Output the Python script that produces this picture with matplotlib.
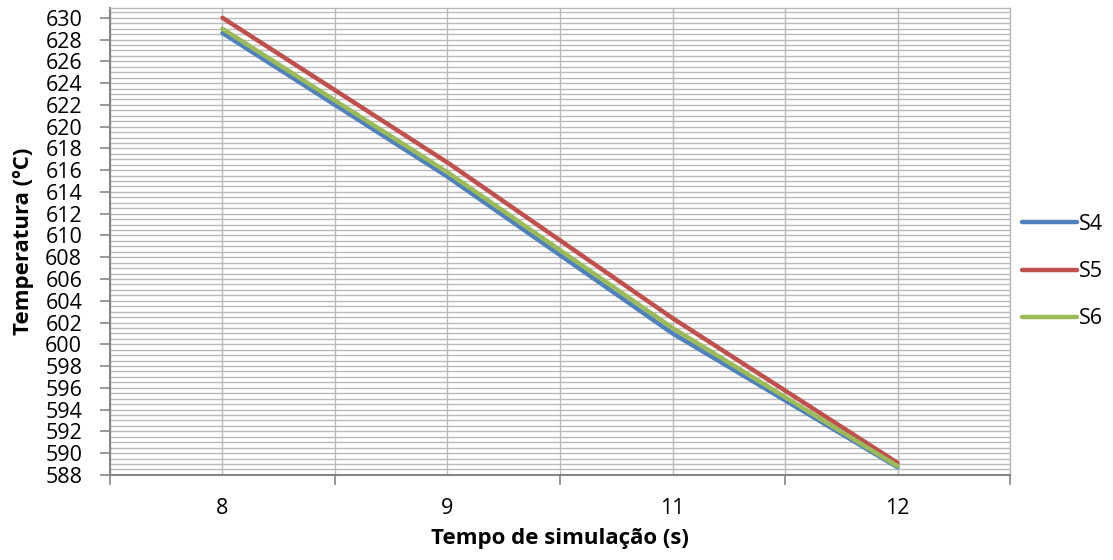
import matplotlib
matplotlib.use("Agg")
import matplotlib.pyplot as plt
from matplotlib.ticker import MultipleLocator, FixedLocator

plt.rcParams['font.family'] = ['Open Sans', 'DejaVu Sans']

# data
tempos = ["8", "9", "11", "12"]
s4 = [628.6, 615.4, 601.0, 588.7]
s5 = [630.0, 616.7, 602.4, 589.1]
s6 = [629.0, 615.8, 601.5, 588.8]

series = [("S4", s4, "#4F81BD"), ("S5", s5, "#C0504D"), ("S6", s6, "#9BBB59")]

GRID = "#b9b9b9"
AXIS = "#868686"

fig = plt.figure(figsize=(11.13, 5.6), dpi=100)
ax = fig.add_axes([0.0988, 0.152, 0.8087, 0.8337])

xs = list(range(len(tempos)))
for name, vals, col in series:
    ax.plot(xs, vals, color=col, lw=3.2, solid_capstyle="round", label=name, zorder=3)

ax.set_xlim(-0.5, len(tempos) - 0.5)
ax.set_ylim(588, 630.9)

ax.set_xticks(xs)
ax.set_xticklabels(tempos)
ax.xaxis.set_minor_locator(FixedLocator([i - 0.5 for i in range(len(tempos) + 1)]))
ax.yaxis.set_major_locator(MultipleLocator(2))
ax.yaxis.set_minor_locator(MultipleLocator(0.5))

ax.tick_params(axis="x", which="major", length=0, pad=17, labelsize=15.5)
ax.tick_params(axis="x", which="minor", length=7, width=1.2, color=AXIS, direction="out")
ax.tick_params(axis="y", which="major", length=7, width=1.2, color=AXIS, direction="out",
               labelsize=15.5, pad=13)
ax.tick_params(axis="y", which="minor", length=0)

ax.grid(True, which="both", axis="both", color=GRID, lw=1.0, zorder=0)
ax.set_axisbelow(True)

for side in ["top", "right"]:
    ax.spines[side].set_color(GRID)
    ax.spines[side].set_linewidth(1.0)
for side in ["left", "bottom"]:
    ax.spines[side].set_color(AXIS)
    ax.spines[side].set_linewidth(1.5)

ax.set_ylabel("Temperatura (ºC)", fontsize=16, fontweight="bold", va="center")
ax.set_xlabel("Tempo de simulação (s)", fontsize=16, fontweight="bold", va="center")
ax.yaxis.set_label_coords(-0.0956, 0.5)
ax.xaxis.set_label_coords(0.5, -0.137)

fig.legend(loc="center left", bbox_to_anchor=(0.9005, 0.515), frameon=False,
           fontsize=15.5, handlelength=2.55, handletextpad=0.1, labelspacing=1.22)

fig.savefig("out.png", dpi=100)
